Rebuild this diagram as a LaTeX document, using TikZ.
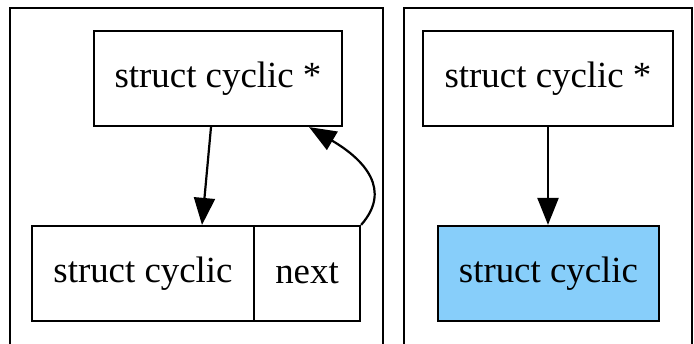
\documentclass[tikz,border=0pt]{standalone}
\usepackage{fontspec}
\setmainfont{Liberation Serif}
\usetikzlibrary{arrows.meta,calc}
\definecolor{skyblue}{HTML}{87CEFA}
\tikzset{
  cluster/.style={draw=black, line width=2.2bp},
  box/.style={draw=black, line width=2.2bp, rectangle, inner sep=0pt, font=\fontsize{37}{40}\selectfont},
  arr/.style={line width=2.2bp, -{Triangle[length=27bp,width=21bp]}}
}
\begin{document}
\begin{tikzpicture}[x=1bp,y=-1bp]
\useasboundingbox (0,0) rectangle (694,343);
% clusters
\draw[cluster] (10,8) rectangle (383,360);
\draw[cluster] (404,8) rectangle (692,360);
% left cluster
\node[box, minimum width=248bp, minimum height=95bp] (p1) at (218,78.5) {struct cyclic *};
\node[box, minimum width=222bp, minimum height=95bp] (r1) at (143,273.5) {struct cyclic};
\node[box, minimum width=106bp, minimum height=95bp] (r2) at (307,273.5) {next};
\draw[arr] ($(p1.south)+(-7,0)$) -- ($(r1.north)+(59,0)$);
\draw[arr] (r2.north east) .. controls (392,190) and (365,160) .. ($(p1.south east)+(-34,0)$);
% right cluster
\node[box, minimum width=250bp, minimum height=95bp] (p2) at (548,78.5) {struct cyclic *};
\node[box, fill=skyblue, minimum width=221bp, minimum height=95bp] (s2) at (548.5,273.5) {struct cyclic};
\draw[arr] (p2.south) -- (p2.south |- s2.north);
\end{tikzpicture}
\end{document}
